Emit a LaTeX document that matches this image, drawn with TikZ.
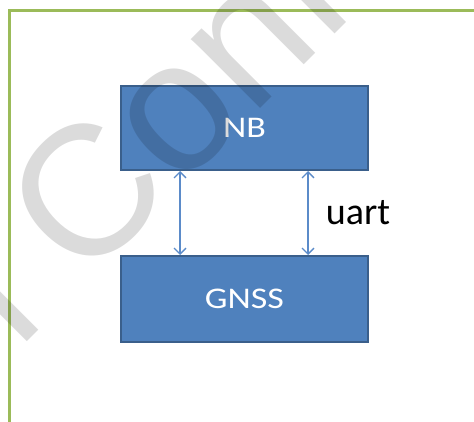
\documentclass[tikz,border=0pt]{standalone}
\usepackage{fontspec}
\setmainfont{Carlito}
\newfontfamily\wmfont{Liberation Sans}
\usetikzlibrary{arrows.meta}
\definecolor{frame}{HTML}{9BBB59}
\definecolor{boxfill}{HTML}{4F81BD}
\definecolor{boxline}{HTML}{3A5F8B}
\definecolor{link}{HTML}{5B8BC9}
\tikzset{
  block/.style={draw=boxline, fill=boxfill, line width=2pt, minimum width=247pt,
    minimum height=84pt, inner sep=0pt, text=white, font=\fontsize{30}{36}\selectfont},
  bus/.style={link, line width=1.3pt,
    {Straight Barb[length=6pt,width=12pt]}-{Straight Barb[length=6pt,width=12pt]}},
  wmark/.style={text=black, text opacity=0.14, font=\wmfont\fontsize{185}{220}\selectfont,
    rotate=45, inner sep=0pt, anchor=base}
}
\begin{document}
\begin{tikzpicture}[x=1pt, y=-1pt]
  \useasboundingbox (0,0) rectangle (474,422);
  \clip (0,0) rectangle (474,422);
  \draw[frame, line width=3pt] (9,430) -- (9,10.5) -- (480,10.5);

  \node[block] (nb) at (244.5,128) {\scalebox{1.2}[1]{NB}};
  \node[block, minimum height=86pt] (gnss) at (244.5,299) {\scalebox{1.2}[1]{GNSS}};

  \draw[bus] ([xshift=-64.5pt]nb.south) -- ([xshift=-64.5pt]gnss.north);
  \draw[bus] ([xshift=63.5pt]nb.south) -- ([xshift=63.5pt]gnss.north)
    node[midway, right=14pt, text=black, font=\fontsize{38}{44}\selectfont] (uart) {uart};

  \node[wmark] (wm) at (84,285) {\makebox[0pt][r]{Quectel\ }\makebox[0pt][l]{Confidential}};
\end{tikzpicture}
\end{document}
